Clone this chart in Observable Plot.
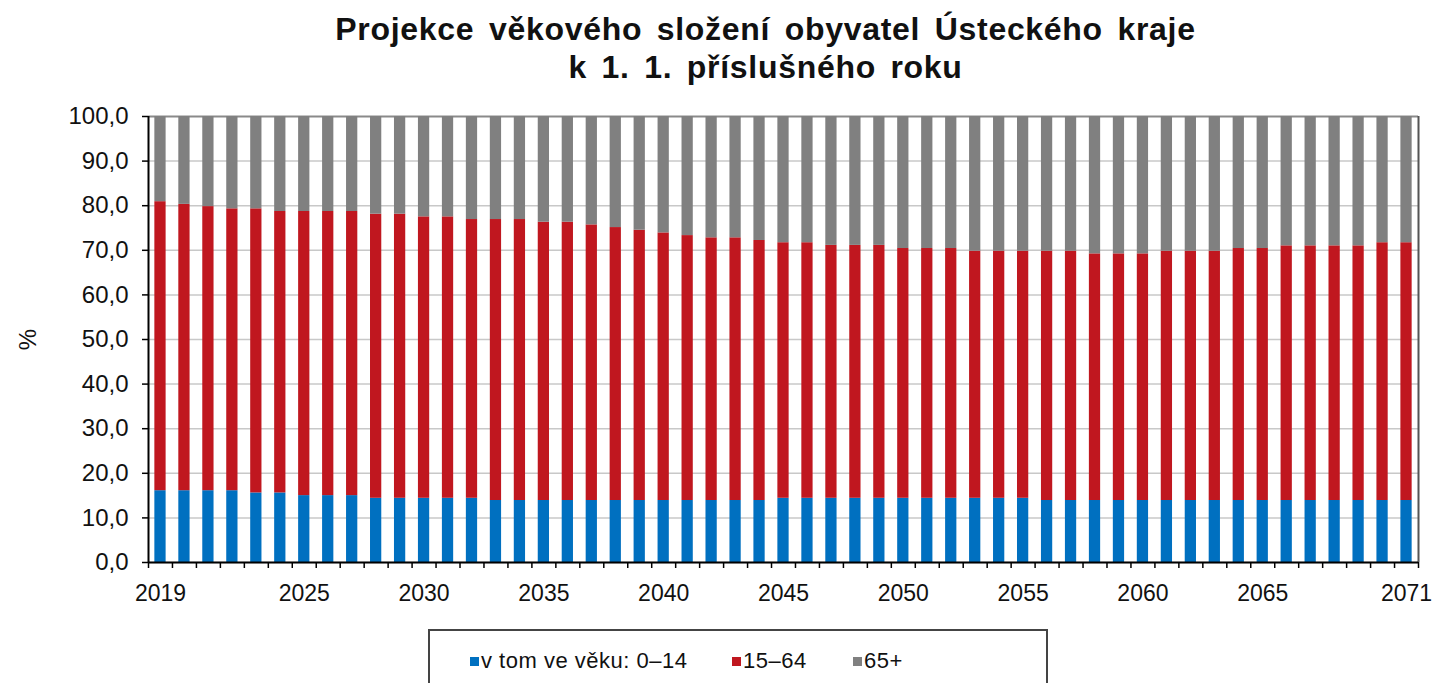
<!DOCTYPE html>
<html>
<head>
<meta charset="utf-8">
<script src="https://cdn.jsdelivr.net/npm/d3@7"></script>
<script src="https://cdn.jsdelivr.net/npm/@observablehq/plot@0.6"></script>
<style>
  html, body { margin: 0; padding: 0; background: #fff; }
  body { width: 1437px; height: 683px; position: relative; overflow: hidden; font-family: "Liberation Sans", Arial, sans-serif; }
  #title { position: absolute; left: 94px; width: 1343px; top: 10px; text-align: center; font-weight: bold; font-size: 32px; line-height: 38px; color: #111; word-spacing: 5px; letter-spacing: 0.7px; }
  #chart { position: absolute; left: 0; top: 95px; }
  #legend { position: absolute; left: 428px; top: 629px; width: 616px; height: 70px; border: 2px solid #444; background: #fff; }
  .item { position: absolute; top: 17px; font-size: 22px; color: #111; white-space: nowrap; letter-spacing: 0.5px; }
  .sw { display: inline-block; width: 9px; height: 9px; margin-right: 2px; vertical-align: 2px; }
</style>
</head>
<body>
<div id="title">Projekce věkového složení obyvatel Ústeckého kraje<br>k 1. 1. příslušného roku</div>
<div id="chart"></div>
<div id="legend"></div>
<script>
const years = [2019,2020,2021,2022,2023,2024,2025,2026,2027,2028,2029,2030,2031,2032,2033,2034,2035,2036,2037,2038,2039,2040,2041,2042,2043,2044,2045,2046,2047,2048,2049,2050,2051,2052,2053,2054,2055,2056,2057,2058,2059,2060,2061,2062,2063,2064,2065,2066,2067,2068,2069,2070,2071];

const age0_14 = [16.1,16.1,16.1,16.1,15.6,15.6,15.0,15.0,15.0,14.4,14.4,14.4,14.4,14.4,
  13.9,13.9,13.9,13.9,13.9,13.9,13.9,13.9,13.9,13.9,13.9,13.9,
  14.4,14.4,14.4,14.4,14.4,14.4,14.4,14.4,14.4,14.4,14.4,
  13.9,13.9,13.9,13.9,13.9,13.9,13.9,13.9,13.9,13.9,13.9,13.9,13.9,13.9,13.9,13.9];

const age15_64 = [64.8,64.2,63.7,63.2,63.7,63.1,63.7,63.7,63.7,63.7,63.7,63.1,63.1,62.5,
  63.0,63.0,62.4,62.4,61.8,61.2,60.6,60.0,59.4,58.9,58.9,58.3,
  57.3,57.3,56.7,56.7,56.7,56.0,56.0,56.0,55.4,55.4,55.4,
  55.9,55.9,55.3,55.3,55.3,55.9,55.9,55.9,56.5,56.5,57.1,57.1,57.1,57.1,57.8,57.8];

const age65plus = [19.1,19.7,20.2,20.7,20.7,21.3,21.3,21.3,21.3,21.9,21.9,22.5,22.5,23.1,
  23.1,23.1,23.7,23.7,24.3,24.9,25.5,26.1,26.7,27.2,27.2,27.8,
  28.3,28.3,28.9,28.9,28.9,29.6,29.6,29.6,30.2,30.2,30.2,
  30.2,30.2,30.8,30.8,30.8,30.2,30.2,30.2,29.6,29.6,29.0,29.0,29.0,29.0,28.3,28.3];

const groups = ["v tom ve věku: 0–14", "15–64", "65+"];
const groupColors = ["#0070c0", "#c0171f", "#808080"];
const xTickYears = [2019, 2025, 2030, 2035, 2040, 2045, 2050, 2055, 2060, 2065, 2071];
const yTicks = [0, 10, 20, 30, 40, 50, 60, 70, 80, 90, 100];

// build stacked table
const series = [age0_14, age15_64, age65plus];
const table = [];
years.forEach((yr, i) => {
  let acc = 0;
  series.forEach((s, g) => {
    table.push({year: yr, group: groups[g], y1: acc, y2: acc + s[i]});
    acc += s[i];
  });
});
const boundaries = [years[0] - 0.5, ...years.map(y => y + 0.5)];
const halfW = 0.235;
const fmt = d => d3.format(".1f")(d).replace(".", ",");

const plot = Plot.plot({
  width: 1437,
  height: 512,
  marginTop: 21,
  marginBottom: 45,
  marginLeft: 148,
  marginRight: 19,
  style: {fontFamily: "Liberation Sans, Arial, sans-serif", fontSize: "22px", color: "#111", background: "#fff"},
  x: {domain: [boundaries[0], boundaries[boundaries.length - 1]]},
  y: {domain: [0, 100]},
  color: {domain: groups, range: groupColors},
  marks: [
    Plot.gridY(yTicks.filter(t => t < 100), {stroke: "#c8c8c8", strokeOpacity: 1, strokeWidth: 1.5}),
    Plot.ruleY([100], {stroke: "#8a8a8a", strokeWidth: 2}),
    Plot.rectY(table, {
      x1: d => d.year - halfW,
      x2: d => d.year + halfW,
      y1: "y1",
      y2: d => Math.min(d.y2, 100),
      fill: "group"
    }),
    Plot.ruleX([boundaries[boundaries.length - 1]], {stroke: "#555", strokeWidth: 2}),
    Plot.ruleX([boundaries[0]], {stroke: "#000", strokeWidth: 2}),
    Plot.ruleY([0], {stroke: "#000", strokeWidth: 2}),
    Plot.axisY({ticks: yTicks, tickFormat: fmt, tickSize: 6, tickPadding: 14, stroke: "#000", strokeWidth: 1.5,
      label: "%", labelAnchor: "center", labelArrow: "none", labelOffset: 130, fontSize: 24, letterSpacing: 1.6}),
    Plot.axisX({ticks: boundaries, tickFormat: () => "", tickSize: 6, stroke: "#000", strokeWidth: 1.5, label: null}),
    Plot.axisX({ticks: xTickYears, tickFormat: d => String(d), tickSize: 0, tickPadding: 22, label: null, fontSize: 23, letterSpacing: 1.4})
  ]
});
document.getElementById("chart").appendChild(plot);

// legend
const legend = document.getElementById("legend");
const legendX = [40, 302, 423];
groups.forEach((g, i) => {
  const it = document.createElement("div");
  it.className = "item";
  it.style.left = legendX[i] + "px";
  it.innerHTML = `<span class="sw" style="background:${groupColors[i]}"></span>${g}`;
  legend.appendChild(it);
});
</script>
</body>
</html>
